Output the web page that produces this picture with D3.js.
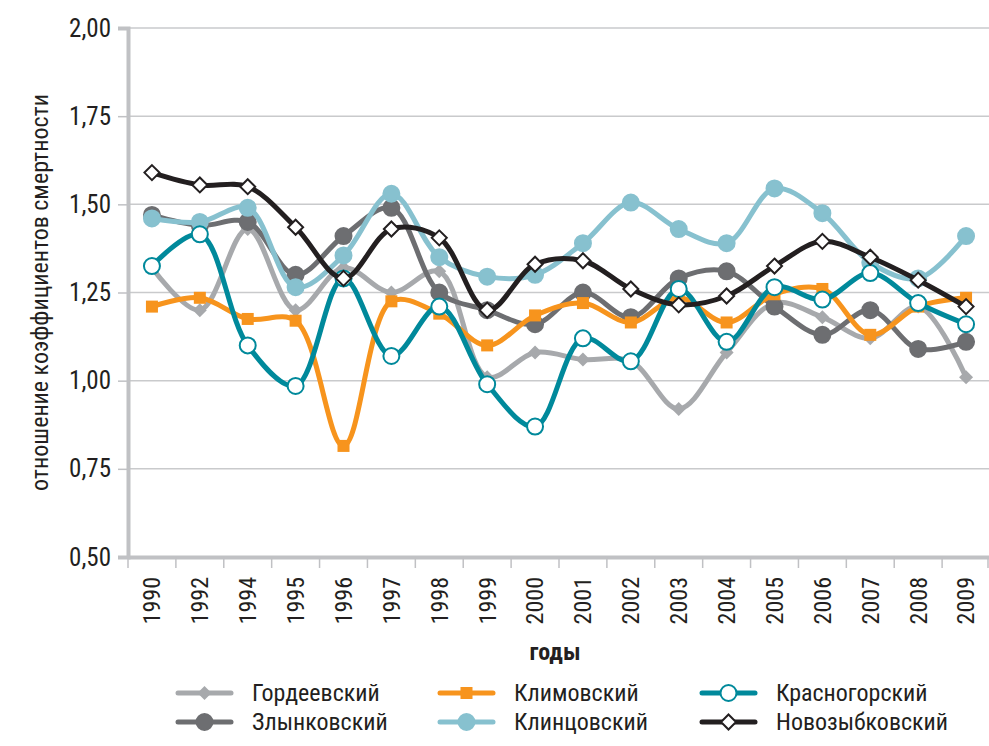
<!DOCTYPE html>
<html>
<head>
<meta charset="utf-8">
<script src="https://cdn.jsdelivr.net/npm/d3@7"></script>
<style>
  body { margin: 0; background: #fff; }
  text { font-family: "Roboto Condensed", "Roboto", sans-serif; font-stretch: condensed; fill: #231f20; }
</style>
</head>
<body>
<svg id="chart" width="989" height="746"></svg>
<script>
const years = ["1990","1992","1994","1995","1996","1997","1998","1999","2000","2001","2002","2003","2004","2005","2006","2007","2008","2009"];
const yTicks = [0.5, 0.75, 1.0, 1.25, 1.5, 1.75, 2.0];

const gordeevsky   = [1.32,1.20,1.43,1.20,1.32,1.25,1.31,1.01,1.08,1.06,1.055,0.92,1.08,1.22,1.18,1.12,1.21,1.01];
const zlynkovsky   = [1.47,1.44,1.45,1.30,1.41,1.49,1.25,1.20,1.16,1.25,1.18,1.29,1.31,1.21,1.13,1.20,1.09,1.11];
const klimovsky    = [1.21,1.235,1.175,1.17,0.815,1.225,1.19,1.10,1.185,1.22,1.165,1.235,1.165,1.245,1.26,1.13,1.21,1.235];
const klintsovsky  = [1.46,1.45,1.49,1.265,1.355,1.53,1.35,1.295,1.30,1.39,1.505,1.43,1.39,1.545,1.475,1.335,1.29,1.41];
const krasnogorsky = [1.325,1.415,1.10,0.985,1.29,1.07,1.21,0.99,0.87,1.12,1.055,1.26,1.11,1.265,1.23,1.305,1.22,1.16];
const novozybkovsky= [1.59,1.555,1.55,1.435,1.29,1.43,1.405,1.20,1.33,1.34,1.26,1.215,1.24,1.325,1.395,1.35,1.285,1.21];

const series = [
  { name: "Гордеевский",    values: gordeevsky,    color: "#a7a9ac", marker: "diamond", fill: "#a7a9ac" },
  { name: "Злынковский",    values: zlynkovsky,    color: "#6d6e71", marker: "circle",  fill: "#6d6e71" },
  { name: "Климовский",     values: klimovsky,     color: "#f7941d", marker: "square",  fill: "#f7941d" },
  { name: "Клинцовский",    values: klintsovsky,   color: "#87c1cf", marker: "circle",  fill: "#87c1cf" },
  { name: "Красногорский",  values: krasnogorsky,  color: "#00899b", marker: "circle",  fill: "#fff" },
  { name: "Новозыбковский", values: novozybkovsky, color: "#231f20", marker: "diamond", fill: "#fff" }
];

const svg = d3.select("#chart");
const mLeft = 128, mRight = 990, mTop = 28, mBottom = 557;

const x = d3.scaleBand().domain(years).range([mLeft, mRight]);
const y = d3.scaleLinear().domain([0.5, 2.0]).range([mBottom, mTop]);
const fontFam = "'Roboto Condensed', Roboto, sans-serif";

// grid
svg.append("g").selectAll("line")
  .data(yTicks.filter(d => d > 0.5))
  .join("line")
    .attr("x1", mLeft).attr("x2", mRight)
    .attr("y1", d => y(d)).attr("y2", d => y(d))
    .attr("stroke", "#c9cacc").attr("stroke-width", 1.5);

// y axis
const yAxis = svg.append("g")
  .attr("transform", `translate(${mLeft},0)`)
  .call(d3.axisLeft(y).tickValues(yTicks).tickSize(10).tickPadding(7)
    .tickFormat(d => d3.format(".2f")(d).replace(".", ",")));
yAxis.select(".domain").attr("stroke", "#c0c1c4").attr("stroke-width", 4);
yAxis.selectAll(".tick line").attr("stroke", "#c0c1c4").attr("stroke-width", 1.5);
yAxis.selectAll("text").attr("font-size", 25).attr("fill", "#231f20").style("font-family", fontFam);

// x axis
const xAxis = svg.append("g")
  .attr("transform", `translate(0,${mBottom})`)
  .call(d3.axisBottom(x).tickSize(0).tickSizeOuter(0));
xAxis.select(".domain").attr("stroke", "#c0c1c4").attr("stroke-width", 4);
xAxis.selectAll(".tick text")
  .attr("font-size", 24).attr("fill", "#231f20")
  .attr("transform", "rotate(-90)")
  .attr("text-anchor", "end")
  .attr("x", -20).attr("y", 0).attr("dy", "0.35em")
  .style("font-family", fontFam);
svg.append("g").selectAll("line")
  .data(years)
  .join("line")
    .attr("x1", d => x(d)).attr("x2", d => x(d))
    .attr("y1", mBottom).attr("y2", mBottom + 11)
    .attr("stroke", "#c0c1c4").attr("stroke-width", 1.5);
svg.append("line")
  .attr("x1", mRight - 2).attr("x2", mRight - 2)
  .attr("y1", mBottom).attr("y2", mBottom + 11)
  .attr("stroke", "#c0c1c4").attr("stroke-width", 1.5);

// axis titles
svg.append("text")
  .attr("x", 555).attr("y", 660)
  .attr("text-anchor", "middle")
  .attr("font-size", 24).attr("font-weight", "bold")
  .text("годы");
svg.append("text")
  .attr("transform", `translate(48,${(mTop + mBottom) / 2}) rotate(-90)`)
  .attr("text-anchor", "middle")
  .attr("font-size", 24)
  .text("отношение коэффициентов смертности");

const cx = d => x(d) + x.bandwidth() / 2;
const line = d3.line().curve(d3.curveCatmullRom.alpha(0.5));

function drawMarker(g, type, color, fill) {
  if (type === "circle") {
    g.append("circle").attr("r", 8).attr("fill", fill).attr("stroke", color).attr("stroke-width", 2);
  } else if (type === "square") {
    g.append("rect").attr("x", -6).attr("y", -6).attr("width", 12).attr("height", 12).attr("fill", fill);
  } else {
    const s = color === "#231f20" ? 7.5 : 7;
    g.append("path").attr("d", `M0,${-s}L${s},0L0,${s}L${-s},0Z`)
      .attr("fill", fill).attr("stroke", color).attr("stroke-width", color === "#231f20" ? 2 : 0);
  }
}

const plot = svg.append("g");
series.forEach(s => {
  const pts = years.map((yr, i) => [cx(yr), y(s.values[i])]);
  plot.append("path")
    .attr("d", line(pts))
    .attr("fill", "none").attr("stroke", s.color).attr("stroke-width", 5)
    .attr("stroke-linejoin", "round");
  pts.forEach(p => {
    const g = plot.append("g").attr("transform", `translate(${p[0]},${p[1]})`);
    drawMarker(g, s.marker, s.color, s.fill);
  });
});

// legend
const legCols = [178, 440, 702];
const legRows = [693, 722];
series.forEach((s, i) => {
  const col = Math.floor(i / 2), row = i % 2;
  const g = svg.append("g").attr("transform", `translate(${legCols[col]},${legRows[row]})`);
  g.append("line").attr("x1", 0).attr("x2", 53).attr("y1", 0).attr("y2", 0)
    .attr("stroke", s.color).attr("stroke-width", 5).attr("stroke-linecap", "round");
  const m = g.append("g").attr("transform", "translate(26.5,0)");
  drawMarker(m, s.marker, s.color, s.fill);
  g.append("text").attr("x", 74).attr("y", 0).attr("dy", "0.35em")
    .attr("font-size", 24).text(s.name);
});
</script>
</body>
</html>
